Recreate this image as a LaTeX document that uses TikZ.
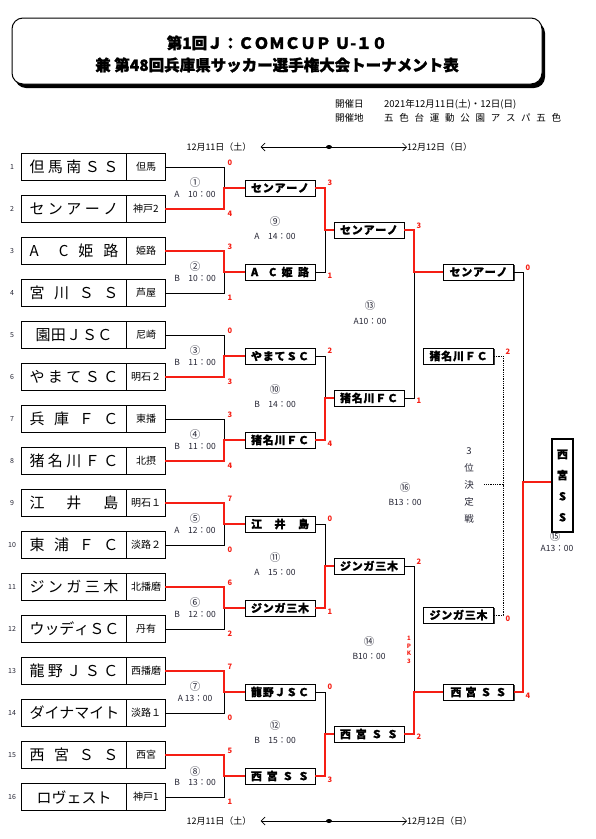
\documentclass[tikz,border=0pt]{standalone}
\usepackage{fontspec}
\setmainfont{Noto Sans CJK JP}
\usetikzlibrary{arrows.meta,shadows,calc}
\definecolor{wred}{RGB}{245,30,20}
\definecolor{lab}{RGB}{35,35,50}
\newcommand{\fsz}[1]{\fontsize{#1}{#1}\selectfont}
\begin{document}
\begin{tikzpicture}[x=1pt,y=-1pt,
 teambox/.style={draw,line width=0.8pt,minimum width=144pt,minimum height=26.5pt,inner sep=0pt},
 tname/.style={inner sep=0pt,font=\fsz{15}},
 treg/.style={inner sep=0pt,font=\fsz{10}},
 tnum/.style={inner sep=0pt,font=\fsz{7},text=lab},
 rbox/.style={draw,line width=0.9pt,fill=white,minimum width=70pt,minimum height=16pt,inner sep=0pt,font=\fsz{11}\bfseries\addfontfeature{FakeBold=1},drop shadow={shadow xshift=1.3pt,shadow yshift=-1.3pt,fill=black!75,opacity=1}},
 bl/.style={line width=0.8pt},
 rl/.style={draw=wred,line width=1.9pt},
 dl/.style={line width=0.7pt,dash pattern=on 0.9pt off 0.9pt},
 sc/.style={inner sep=0pt,font=\fsz{7.5}\bfseries,text=wred},
 circ/.style={inner sep=0pt,font=\fsz{10.5},text=lab},
 tm/.style={inner sep=0pt,font=\fsz{8.5},text=lab},
 hd/.style={inner sep=0pt,anchor=west,font=\fsz{9.5}},
 dt/.style={inner sep=0pt,font=\fsz{9}},
 darr/.style={line width=0.7pt,{Straight Barb[length=4pt,width=8pt]}-{Straight Barb[length=4pt,width=8pt]}}
]
\useasboundingbox (0,0) rectangle (596,839);

% title
\node[draw,line width=1pt,rounded corners=11pt,minimum width=530pt,minimum height=66pt,fill=white,
  drop shadow={shadow xshift=3pt,shadow yshift=-4pt,fill=black,opacity=1}] (tb) at (277,51) {};
\node[align=center,inner sep=0pt,font=\fontsize{15.5}{22}\selectfont\bfseries\addfontfeature{FakeBold=1.5}] (tt) at (277,54)
  {第1回Ｊ：ＣＯＭＣＵＰ Ｕ-１０\\兼 第48回兵庫県サッカー選手権大会トーナメント表};

% header
\node[hd] (h1) at (335,104) {開催日};
\node[hd] (h2) at (384,104) {2021年12月11日(土)・12日(日)};
\node[hd] (h3) at (335,118) {開催地};
\node[hd] (h4) at (384,118) {\makebox[177pt][s]{五\hfill 色\hfill 台\hfill 運\hfill 動\hfill 公\hfill 園\hfill ア\hfill ス\hfill パ\hfill 五\hfill 色}};

% dates
\node[dt] (d1) at (219,147) {12月11日（土）};
\node[dt,anchor=west] (d2) at (407,147) {12月12日（日）};
\draw[darr,shorten <=9pt] (d1.east) -- (d2.west);
\fill (329,147) ellipse [x radius=3,y radius=2];
\node[dt] (d3) at (219,821) {12月11日（土）};
\node[dt,anchor=west] (d4) at (407,821) {12月12日（日）};
\draw[darr,shorten <=9pt] (d3.east) -- (d4.west);
\fill (329,821) ellipse [x radius=3,y radius=2];

% teams
\foreach \i/\w/\nm/\rg in {
 1/89/{但\hfill 馬\hfill 南\hfill Ｓ\hfill Ｓ}/但馬,
 2/89/{セ\hfill ン\hfill ア\hfill ー\hfill ノ}/神戸2,
 3/89/{A\hfill\hfill C\hfill 姫\hfill 路}/姫路,
 4/89/{宮\hfill 川\hfill Ｓ\hfill Ｓ}/芦屋,
 5/77/{園\hfill 田\hfill Ｊ\hfill Ｓ\hfill Ｃ}/尼崎,
 6/89/{や\hfill ま\hfill て\hfill Ｓ\hfill Ｃ}/明石２,
 7/89/{兵\hfill 庫\hfill Ｆ\hfill Ｃ}/東播,
 8/89/{猪\hfill 名\hfill 川\hfill Ｆ\hfill Ｃ}/北摂,
 9/89/{江\hfill 井\hfill 島}/明石１,
 10/89/{東\hfill 浦\hfill Ｆ\hfill Ｃ}/淡路２,
 11/89/{ジ\hfill ン\hfill ガ\hfill 三\hfill 木}/北播磨,
 12/89/{ウ\hfill ッ\hfill デ\hfill ィ\hfill Ｓ\hfill Ｃ}/丹有,
 13/89/{龍\hfill 野\hfill Ｊ\hfill Ｓ\hfill Ｃ}/西播磨,
 14/89/{ダ\hfill イ\hfill ナ\hfill マ\hfill イ\hfill ト}/淡路１,
 15/89/{西\hfill 宮\hfill Ｓ\hfill Ｓ}/西宮,
 16/75/{ロ\hfill ヴ\hfill ェ\hfill ス\hfill ト}/神戸1}
{
 \pgfmathsetmacro\yy{167+42*(\i-1)}
 \node[teambox] (t\i) at (93,\yy) {};
 \draw[line width=0.8pt] ($(t\i.north west)+(106,0)$) -- ($(t\i.south west)+(106,0)$);
 \node[tname] (n\i) at (74,\yy) {\makebox[\w pt][s]{\nm}};
 \node[treg] (g\i) at (146,\yy) {\rg};
 \node[tnum] (m\i) at (12,\yy) {\i};
}

% round 2 boxes
\foreach \k/\txt in {
 1/{セ\hfill ン\hfill ア\hfill ー\hfill ノ},
 2/{A\hfill\hfill C\hfill 姫\hfill 路},
 3/{や\hfill ま\hfill て\hfill Ｓ\hfill Ｃ},
 4/{猪\hfill 名\hfill 川\hfill Ｆ\hfill Ｃ},
 5/{江\hfill 井\hfill 島},
 6/{ジ\hfill ン\hfill ガ\hfill 三\hfill 木},
 7/{龍\hfill 野\hfill Ｊ\hfill Ｓ\hfill Ｃ},
 8/{西\hfill 宮\hfill Ｓ\hfill Ｓ}}
{ \node[rbox] (r2\k) at (280,{188+84*(\k-1)}) {\makebox[58pt][s]{\txt}}; }

% round 3 boxes
\node[rbox] (r31) at (369,230) {\makebox[58pt][s]{セ\hfill ン\hfill ア\hfill ー\hfill ノ}};
\node[rbox] (r32) at (369,398) {\makebox[58pt][s]{猪\hfill 名\hfill 川\hfill Ｆ\hfill Ｃ}};
\node[rbox] (r33) at (369,566) {\makebox[58pt][s]{ジ\hfill ン\hfill ガ\hfill 三\hfill 木}};
\node[rbox] (r34) at (369,734) {\makebox[58pt][s]{西\hfill 宮\hfill Ｓ\hfill Ｓ}};
% semis
\node[rbox] (r41) at (478.5,272) {\makebox[58pt][s]{セ\hfill ン\hfill ア\hfill ー\hfill ノ}};
\node[rbox] (r42) at (478.5,692) {\makebox[56pt][s]{西\hfill 宮\hfill Ｓ\hfill Ｓ}};
% third place boxes
\node[rbox] (p1) at (458.5,356) {\makebox[58pt][s]{猪\hfill 名\hfill 川\hfill Ｆ\hfill Ｃ}};
\node[rbox] (p2) at (458.5,615) {\makebox[58pt][s]{ジ\hfill ン\hfill ガ\hfill 三\hfill 木}};
% champion
\node[draw,line width=2pt,minimum width=21pt,minimum height=93pt,inner sep=0pt,align=center,
  font=\fontsize{11}{21}\selectfont\bfseries\addfontfeature{FakeBold=1}] (ch) at (562.5,485.5) {西\\宮\\S\\S};
% 3rd place label
\node[align=center,inner sep=0pt,text=lab,font=\fontsize{9.5}{17}\selectfont] (tp) at (469,485.5) {3\\位\\決\\定\\戦};

% junctions
\foreach \k in {1,...,8} \coordinate (j1\k) at (224,{188+84*(\k-1)});
\foreach \m in {1,...,4} \coordinate (j2\m) at (325,{230+168*(\m-1)});
\coordinate (j31) at (414,272);
\coordinate (j32) at (414,692);
\coordinate (jf) at (523,482);
\coordinate (jp) at (503,484);
\coordinate (jq) at (484,484);

% round 1 lines
\foreach \k/\l in {1/1,2/4,3/5,4/7,5/10,6/12,7/14,8/16} \draw[bl] (t\l.east) -| (j1\k);
\foreach \k/\w in {1/2,2/3,3/6,4/8,5/9,6/11,7/13,8/15} \draw[rl] (t\w.east) -| (j1\k) -- (r2\k.west);
% round 2 lines
\foreach \m/\l in {1/2,2/3,3/5,4/7} \draw[bl] (r2\l.east) -| (j2\m);
\foreach \m/\w in {1/1,2/4,3/6,4/8} \draw[rl] (r2\w.east) -| (j2\m) -- (r3\m.west);
% semis
\draw[bl] (r32.east) -| (j31);
\draw[rl] (r31.east) -| (j31) -- (r41.west);
\draw[bl] (r33.east) -| (j32);
\draw[rl] (r34.east) -| (j32) -- (r42.west);
% final
\draw[bl] (r41.east) -| (jf);
\draw[rl] (r42.east) -| (jf) -- (jf -| ch.west);
% third place
\draw[dl] (p1.east) -| (jp);
\draw[dl] (p2.east) -| (jp);
\draw[dl] (jp) -- (jq);

% scores
\foreach \k/\sa/\sb in {1/0/4,2/3/1,3/0/3,4/3/4,5/7/0,6/6/2,7/7/0,8/5/1} {
 \node[sc] (s1a\k) at (230,{167+84*(\k-1)-4}) {\sa};
 \node[sc] (s1b\k) at (230,{209+84*(\k-1)+5}) {\sb};
}
\foreach \m/\sa/\sb in {1/3/1,2/2/4,3/0/1,4/0/3} {
 \node[sc] (s2a\m) at (330,{188+168*(\m-1)-5}) {\sa};
 \node[sc] (s2b\m) at (330,{272+168*(\m-1)+4}) {\sb};
}
\node[sc] (s31) at (419,226) {3};
\node[sc] (s32) at (419,401) {1};
\node[sc] (s33) at (419,562) {2};
\node[sc] (s34) at (419,737) {2};
\node[sc,align=center,font=\fontsize{6}{7.7}\selectfont\bfseries] (pk) at (409,650) {1\\P\\K\\3};
\node[sc] (sf1) at (528,268) {0};
\node[sc] (sf2) at (528,696) {4};
\node[sc] (sp1) at (508,352) {2};
\node[sc] (sp2) at (508,619) {0};

% match labels round 1
\foreach \k/\cn/\tms in {1/①/A　10：00,2/②/B　10：00,3/③/B　11：00,4/④/B　11：00,
  5/⑤/A　12：00,6/⑥/B　12：00,7/⑦/A 13：00,8/⑧/B　13：00} {
 \node[circ] (c\k) at (195,{183+84*(\k-1)}) {\cn};
 \node[tm] (tm\k) at (195,{194+84*(\k-1)}) {\tms};
}
\foreach \j/\cn/\tms in {1/⑨/A　14：00,2/⑩/B　14：00,3/⑪/A　15：00,4/⑫/B　15：00} {
 \node[circ] (cc\j) at (275,{222+168*(\j-1)}) {\cn};
 \node[tm] (tt\j) at (275,{236+168*(\j-1)}) {\tms};
}
\node[circ] (c13) at (370,306) {⑬};
\node[tm] (tm13) at (370,321) {A10：00};
\node[circ] (c14) at (369,642) {⑭};
\node[tm] (tm14) at (369,656) {B10：00};
\node[circ] (c16) at (405,488) {⑯};
\node[tm] (tm16) at (405,502) {B13：00};
\node[circ] (c15) at (555,537) {⑮};
\node[tm] (tm15) at (557,548) {A13：00};
\end{tikzpicture}
\end{document}
